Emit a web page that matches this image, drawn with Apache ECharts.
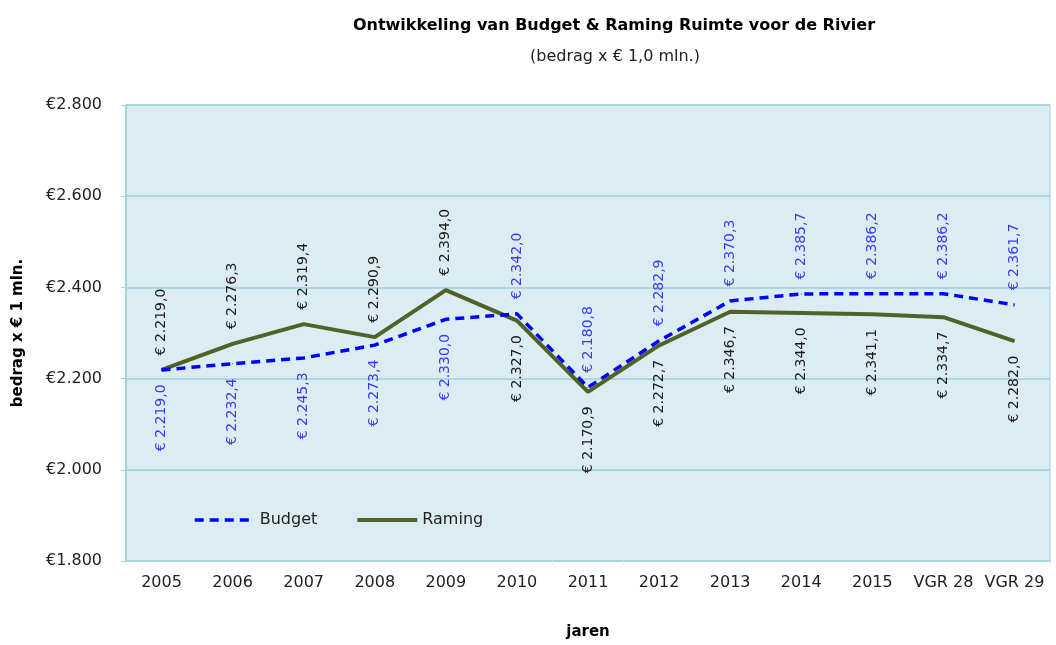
<!DOCTYPE html>
<html>
<head>
<meta charset="utf-8">
<script src="https://cdn.jsdelivr.net/npm/echarts@6/dist/echarts.min.js"></script>
<style>
  html, body { margin: 0; padding: 0; background: #fff; }
  #chart { width: 1056px; height: 645px; }
</style>
</head>
<body>
<div id="chart"></div>
<script>
const years = ['2005', '2006', '2007', '2008', '2009', '2010', '2011', '2012', '2013', '2014', '2015', 'VGR 28', 'VGR 29'];
const budget = [2219.0, 2232.4, 2245.3, 2273.4, 2330.0, 2342.0, 2180.8, 2282.9, 2370.3, 2385.7, 2386.2, 2386.2, 2361.7];
const raming = [2219.0, 2276.3, 2319.4, 2290.9, 2394.0, 2327.0, 2170.9, 2272.7, 2346.7, 2344.0, 2341.1, 2334.7, 2282.0];
// waar staat het label: boven of onder het punt
const budgetLabelPos = ['bottom', 'bottom', 'bottom', 'bottom', 'bottom', 'top', 'top', 'top', 'top', 'top', 'top', 'top', 'top'];
const ramingLabelPos = ['top', 'top', 'top', 'top', 'top', 'bottom', 'bottom', 'bottom', 'bottom', 'bottom', 'bottom', 'bottom', 'bottom'];

const FONT = '"DejaVu Sans", sans-serif';
const BUDGET_LINE = { color: '#0000FF', width: 3.5, type: [9, 6] };
const RAMING_LINE = { color: '#4F6228', width: 4, type: 'solid' };

// 2219.0 -> "2.219,0"
function nl(v, dec) {
  const parts = v.toFixed(dec).split('.');
  parts[0] = parts[0].replace(/\B(?=(\d{3})+(?!\d))/g, '.');
  return parts.join(',');
}

function labelFor(pos, color) {
  return {
    show: true,
    position: pos,
    rotate: 90,
    distance: 14,
    align: pos === 'top' ? 'left' : 'right',
    verticalAlign: 'middle',
    color: color,
    fontFamily: FONT,
    fontSize: 14,
    formatter: p => '€ ' + nl(p.value, 1)
  };
}

const chart = echarts.init(document.getElementById('chart'));
chart.setOption({
  animation: false,
  backgroundColor: '#fff',
  title: [{
    text: 'Ontwikkeling van Budget & Raming Ruimte voor de Rivier',
    left: 609, top: 13, textAlign: 'center',
    textStyle: { fontFamily: FONT, fontSize: 16, fontWeight: 'bold', color: '#000' }
  }, {
    text: '(bedrag x € 1,0 mln.)',
    left: 610, top: 44, textAlign: 'center',
    textStyle: { fontFamily: FONT, fontSize: 16, fontWeight: 'normal', color: '#222' }
  }],
  legend: {
    left: 188, top: 507,
    itemWidth: 60, itemHeight: 14, itemGap: 38,
    itemStyle: { opacity: 0 },
    textStyle: { fontFamily: FONT, fontSize: 16, color: '#222' },
    data: [
      { name: 'Budget', lineStyle: BUDGET_LINE },
      { name: 'Raming', lineStyle: RAMING_LINE }
    ]
  },
  grid: {
    left: 126, right: 6, top: 105, bottom: 83,
    show: true,
    backgroundColor: '#DBEDF3',
    borderColor: '#A6D3E0',
    borderWidth: 1
  },
  xAxis: {
    type: 'category',
    data: years,
    boundaryGap: true,
    name: 'jaren',
    nameLocation: 'middle',
    nameGap: 64,
    nameTextStyle: { fontFamily: FONT, fontSize: 15, fontWeight: 'bold', color: '#000' },
    axisLine: { lineStyle: { color: '#A6D3E0', width: 2 } },
    axisTick: { show: true, length: 4, lineStyle: { color: '#E6F2F6' } },
    axisLabel: { fontFamily: FONT, fontSize: 16, color: '#222', margin: 14, interval: 0 }
  },
  yAxis: {
    type: 'value',
    min: 1800, max: 2800, interval: 200,
    name: 'bedrag x € 1 mln.',
    nameLocation: 'middle',
    nameGap: 100,
    nameTextStyle: { fontFamily: FONT, fontSize: 15, fontWeight: 'bold', color: '#000' },
    axisLine: { show: true, lineStyle: { color: '#A6D3E0', width: 2 } },
    axisTick: { show: true, length: 5, lineStyle: { color: '#A6D3E0' } },
    axisLabel: { fontFamily: FONT, fontSize: 16, color: '#222', margin: 24, formatter: v => '€' + nl(v, 0) },
    splitLine: { lineStyle: { color: '#9CCEDC', width: 1.5 } }
  },
  series: [{
    name: 'Budget',
    type: 'line',
    data: budget.map((v, i) => ({ value: v, label: labelFor(budgetLabelPos[i], '#3A3AFF') })),
    symbol: 'circle',
    symbolSize: 1,
    showSymbol: true,
    z: 3,
    itemStyle: { color: '#0000FF' },
    lineStyle: BUDGET_LINE
  }, {
    name: 'Raming',
    type: 'line',
    data: raming.map((v, i) => ({ value: v, label: labelFor(ramingLabelPos[i], '#1a1a1a') })),
    symbol: 'circle',
    symbolSize: 1,
    showSymbol: true,
    z: 2,
    itemStyle: { color: '#4F6228' },
    lineStyle: RAMING_LINE
  }]
});
</script>
</body>
</html>
